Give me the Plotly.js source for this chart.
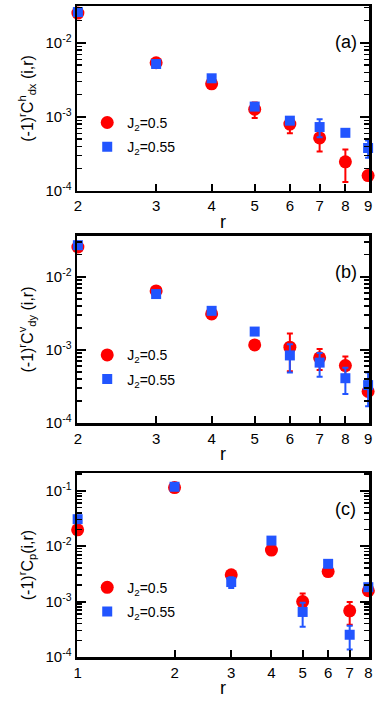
<!DOCTYPE html>
<html>
<head>
<meta charset="utf-8">
<script src="https://cdn.plot.ly/plotly-3.0.1.min.js"></script>
<style>
  html, body { margin: 0; padding: 0; background: #fff; }
  #chart { width: 387px; height: 704px; }
</style>
</head>
<body>
<div id="chart"></div>
<script>
const rAB = [2, 3, 4, 5, 6, 7, 8, 9];
const rC = [1, 2, 3, 4, 5, 6, 7, 8];

// panel (a)
const aRed = [0.0254, 0.0054, 0.0028, 0.00127, 0.00080, 0.00052, 0.000247, 0.000161];
const aRedErr = [0, 0, 0, 0.0003, 0.0002, 0.00018, 0.000115, 0];
const aBlue = [0.0262, 0.0052, 0.00333, 0.00138, 0.00089, 0.00073, 0.00061, 0.00038];
const aBlueErr = [0, 0, 0, 0, 0, 0.0002, 0, 0.0001];

// panel (b)
const bRed = [0.0255, 0.0064, 0.0031, 0.00117, 0.00109, 0.00078, 0.00061, 0.00027];
const bRedErr = [0, 0, 0.0004, 0, 0.00058, 0.00025, 0.0002, 0];
const bBlue = [0.027, 0.0058, 0.00342, 0.00178, 0.00084, 0.00067, 0.00041, 0.00033];
const bBlueErr = [0, 0, 0, 0, 0.00035, 0.00024, 0.00016, 0.00016];

// panel (c)
const cRed = [0.0197, 0.114, 0.00304, 0.0085, 0.0010, 0.00348, 0.00068, 0.00157];
const cRedErr = [0, 0, 0, 0, 0.0004, 0, 0.0003, 0];
const cBlue = [0.0307, 0.118, 0.00225, 0.0126, 0.00065, 0.0048, 0.000252, 0.00182];
const cBlueErr = [0, 0, 0.0005, 0, 0.0003, 0, 0.000115, 0];

const seriesNames = ['J<sub>2</sub>=0.5', 'J<sub>2</sub>=0.55'];
const panelLabels = ['(a)', '(b)', '(c)'];
const yTitles = [
  '(-1)<sup>r</sup>C<sup>h</sup><sub>dx</sub> (i,r)',
  '(-1)<sup>r</sup>C<sup>v</sup><sub>dy</sub> (i,r)',
  '(-1)<sup>r</sup>C<sub>p</sub>(i,r)',
];
const yTickValsAB = [1e-4, 1e-3, 1e-2];
const yTickTextAB = ['10<sup>-4</sup>', '10<sup>-3</sup>', '10<sup>-2</sup>'];
const yTickValsC = [1e-4, 1e-3, 1e-2, 1e-1];
const yTickTextC = ['10<sup>-4</sup>', '10<sup>-3</sup>', '10<sup>-2</sup>', '10<sup>-1</sup>'];

const RED = '#ff0000';
const BLUE = '#2255ff';
const FONT = 'Liberation Sans, Arial, Helvetica, sans-serif';

function makeTrace(x, y, err, color, symbol, size, idx, panel) {
  const sfx = panel === 0 ? '' : String(panel + 1);
  return {
    x: x,
    y: y,
    xaxis: 'x' + sfx,
    yaxis: 'y' + sfx,
    type: 'scatter',
    mode: 'markers',
    name: seriesNames[idx],
    legend: 'legend' + sfx,
    legendgroup: 'g' + panel + '_' + idx,
    cliponaxis: false,
    marker: { color: color, symbol: symbol, size: size, line: { width: 0 } },
    error_y: { type: 'data', array: err, visible: true, color: color, thickness: 2, width: 3 },
    hoverinfo: 'skip',
  };
}

const plotData = [
  makeTrace(rAB, aRed, aRedErr, RED, 'circle', 13, 0, 0),
  makeTrace(rAB, aBlue, aBlueErr, BLUE, 'square', 10, 1, 0),
  makeTrace(rAB, bRed, bRedErr, RED, 'circle', 13, 0, 1),
  makeTrace(rAB, bBlue, bBlueErr, BLUE, 'square', 10, 1, 1),
  makeTrace(rC, cRed, cRedErr, RED, 'circle', 13, 0, 2),
  makeTrace(rC, cBlue, cBlueErr, BLUE, 'square', 10, 1, 2),
];

function xAxis(range, ticks, anchor) {
  return {
    type: 'log',
    range: range,
    domain: [0, 1],
    tickmode: 'array',
    tickvals: ticks,
    ticktext: ticks.map(String),
    ticks: 'inside',
    ticklen: 7,
    tickwidth: 2,
    tickcolor: '#000',
    showline: true,
    linewidth: 2.5,
    linecolor: '#000',
    mirror: true,
    showgrid: false,
    zeroline: false,
    anchor: anchor,
    tickfont: { family: FONT, size: 15, color: '#000' },
    title: { text: 'r', font: { family: FONT, size: 18, color: '#000' }, standoff: 2 },
    fixedrange: true,
  };
}

function yAxis(range, vals, text, title, anchor, domain) {
  return {
    type: 'log',
    range: range,
    domain: domain,
    anchor: anchor,
    tickmode: 'array',
    tickvals: vals,
    ticktext: text,
    ticks: 'inside',
    ticklen: 9,
    tickwidth: 2,
    tickcolor: '#000',
    minor: { ticks: 'inside', ticklen: 5, tickwidth: 1.5, tickcolor: '#000', dtick: 'D1', showgrid: false },
    showline: true,
    linewidth: 2.5,
    linecolor: '#000',
    mirror: 'ticks',
    showgrid: false,
    zeroline: false,
    tickfont: { family: FONT, size: 15, color: '#000' },
    title: { text: title, font: { family: FONT, size: 16, color: '#000' }, standoff: 8 },
    fixedrange: true,
  };
}

const domA = [0.716, 1.0];
const domB = [0.3594, 0.6467];
const domC = [0.0, 0.2826];

// small padding so the points sitting on the edge ticks are kept
const PAD = 0.002;

function legendAt(yPaper) {
  return {
    x: 0.035,
    xanchor: 'left',
    y: yPaper,
    yanchor: 'middle',
    bgcolor: 'rgba(0,0,0,0)',
    font: { family: FONT, size: 14, color: '#000' },
    traceorder: 'grouped',
    tracegroupgap: 3,
    itemclick: false,
    itemdoubleclick: false,
  };
}

const plotLayout = {
  width: 387,
  height: 704,
  margin: { l: 77, r: 18, t: 6, b: 47 },
  paper_bgcolor: '#fff',
  plot_bgcolor: '#fff',
  showlegend: true,
  font: { family: FONT, color: '#000' },
  xaxis: xAxis([Math.log10(2) - PAD, Math.log10(9) + PAD], rAB, 'y'),
  yaxis: yAxis([-4, -1.5], yTickValsAB, yTickTextAB, yTitles[0], 'x', domA),
  xaxis2: xAxis([Math.log10(2) - PAD, Math.log10(9) + PAD], rAB, 'y2'),
  yaxis2: yAxis([-4, -1.443], yTickValsAB, yTickTextAB, yTitles[1], 'x2', domB),
  xaxis3: xAxis([0 - PAD, Math.log10(8) + PAD], rC, 'y3'),
  yaxis3: yAxis([-4, -0.68], yTickValsC, yTickTextC, yTitles[2], 'x3', domC),
  legend: legendAt(0.802),
  legend2: legendAt(0.445),
  legend3: legendAt(0.088),
  annotations: panelLabels.map((label, i) => ({
    text: label,
    xref: 'paper',
    yref: 'paper',
    x: 0.92,
    y: [domA, domB, domC][i][1] - 0.055,
    xanchor: 'center',
    yanchor: 'middle',
    showarrow: false,
    font: { family: FONT, size: 18, color: '#000' },
  })),
};

Plotly.newPlot('chart', plotData, plotLayout, { displayModeBar: false, staticPlot: true });
</script>
</body>
</html>
